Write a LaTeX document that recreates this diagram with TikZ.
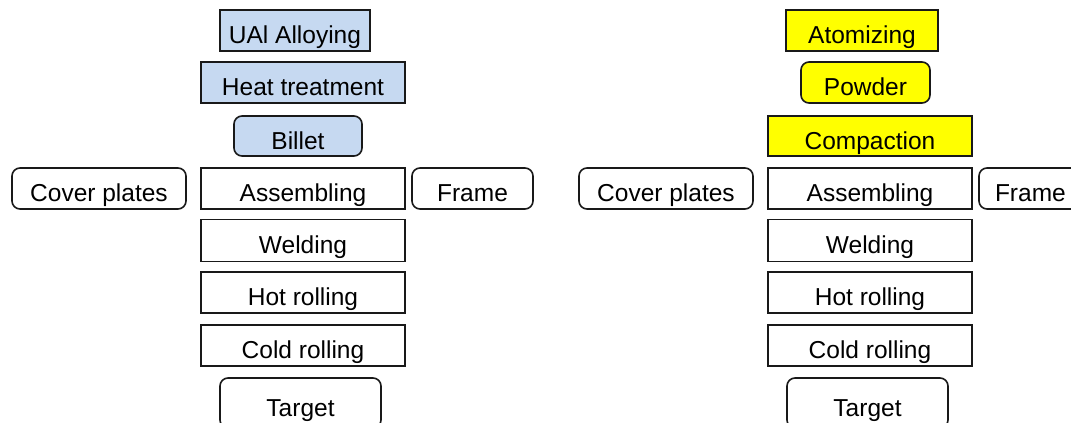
\documentclass[tikz,border=0pt]{standalone}
\usepackage{fontspec}
\setmainfont{Liberation Sans}
\definecolor{boxblue}{RGB}{198,217,241}
\definecolor{boxyellow}{RGB}{255,255,0}
\definecolor{edge}{RGB}{25,25,25}
\tikzset{
  proc/.style={draw=edge, line width=1.6pt, inner sep=0pt, minimum height=41pt,
    text height=26pt, text depth=0pt, font=\fontsize{24.5}{28}\selectfont, align=center},
  rproc/.style={proc, rounded corners=8pt},
  blue/.style={fill=boxblue},
  yel/.style={fill=boxyellow},
}
\begin{document}
\begin{tikzpicture}[x=1pt,y=-1pt]
\useasboundingbox (0,0) rectangle (1071,423);
\clip (0,0) rectangle (1071,423);
% left column
\node[proc,blue,minimum width=150pt] (ual) at (295,30.5) {UAl Alloying};
\node[proc,blue,minimum width=204pt] (heat) at (303,82.5) {Heat treatment};
\node[rproc,blue,minimum width=128pt,minimum height=40pt] (billet) at (298,136) {Billet};
\node[rproc,minimum width=174pt] (cover1) at (99,188.5) {Cover plates};
\node[proc,minimum width=204pt] (asm1) at (303,188.5) {Assembling};
\node[rproc,minimum width=121pt] (frame1) at (472.5,188.5) {Frame};
\node[proc,minimum width=204pt,minimum height=42pt] (weld1) at (303,240.5) {Welding};
\node[proc,minimum width=204pt] (hot1) at (303,292.5) {Hot rolling};
\node[proc,minimum width=204pt] (cold1) at (303,345.5) {Cold rolling};
\node[rproc,minimum width=161pt,minimum height=50pt] (target1) at (300.5,403) {Target};
% right column
\node[proc,yel,minimum width=152pt] (atom) at (862,30.5) {Atomizing};
\node[rproc,yel,minimum width=129pt] (powder) at (865.5,82.5) {Powder};
\node[proc,yel,minimum width=204pt,minimum height=40pt] (compact) at (870,136) {Compaction};
\node[rproc,minimum width=174pt] (cover2) at (666,188.5) {Cover plates};
\node[proc,minimum width=204pt] (asm2) at (870,188.5) {Assembling};
\node[rproc,minimum width=121pt,inner xsep=16pt,text width=89pt,align=left] (frame2) at (1039.5,188.5) {Frame};
\node[proc,minimum width=204pt,minimum height=42pt] (weld2) at (870,240.5) {Welding};
\node[proc,minimum width=204pt] (hot2) at (870,292.5) {Hot rolling};
\node[proc,minimum width=204pt] (cold2) at (870,345.5) {Cold rolling};
\node[rproc,minimum width=161pt,minimum height=50pt] (target2) at (867.5,403) {Target};
\end{tikzpicture}
\end{document}
